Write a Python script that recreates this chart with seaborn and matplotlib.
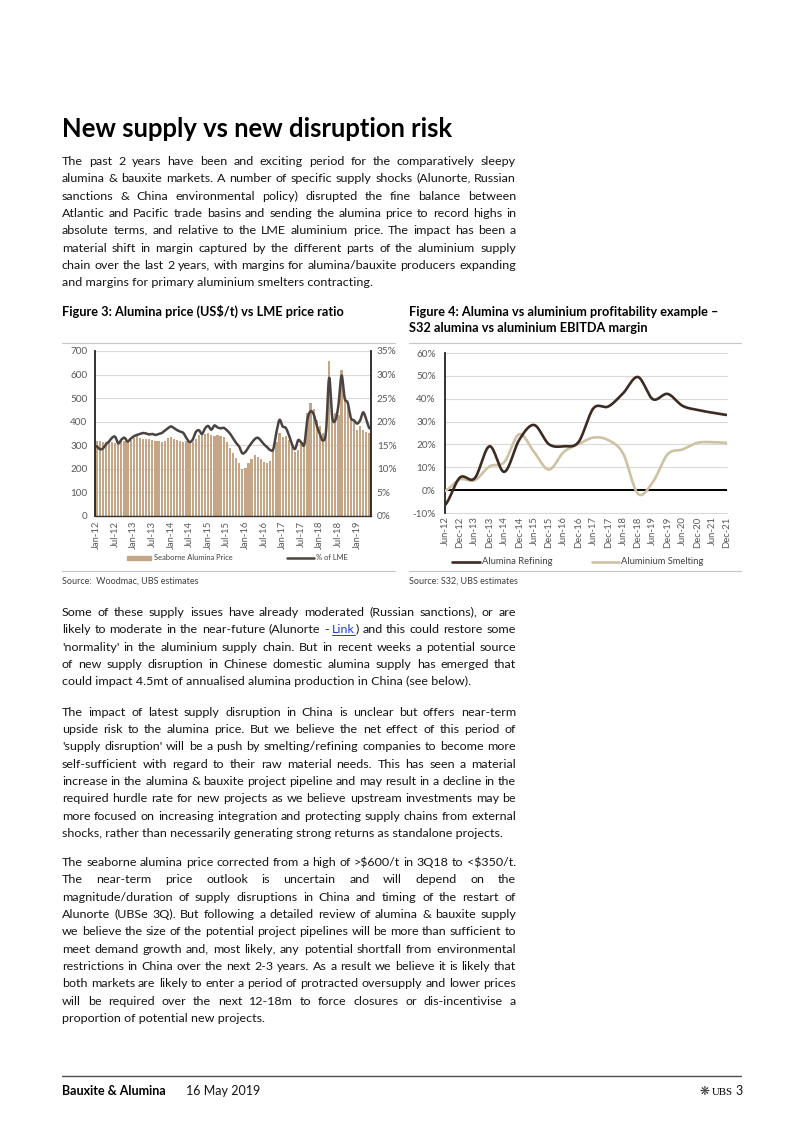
import math
import numpy as np
import pandas as pd
import matplotlib
matplotlib.use('Agg')
import matplotlib.pyplot as plt
from matplotlib.lines import Line2D
from matplotlib.patches import Rectangle
from matplotlib.ticker import FuncFormatter
from matplotlib.font_manager import FontProperties
import seaborn as sns

W, H = 802, 1133

# Figure 3: seaborne alumina price (US$/t, bars) and % of LME (line), monthly Jan-12 .. May-19
months = pd.date_range('2012-01-01', periods=89, freq='MS')
alumina_price = [
    318, 318, 316, 316, 314, 312, 310, 314, 318, 320, 318, 322,
    330, 338, 332, 328, 325, 326, 322, 320, 318, 316, 320, 330,
    336, 328, 322, 318, 316, 320, 318, 314, 325, 345, 350, 348,
    350, 345, 338, 342, 340, 337, 316, 287, 266, 245, 223, 200,
    202, 223, 240, 259, 252, 240, 230, 226, 235, 280, 316, 351,
    337, 340, 323, 294, 273, 280, 309, 306, 437, 480, 454, 408,
    383, 351, 365, 657, 451, 437, 430, 619, 508, 465, 415, 401,
    365, 380, 365, 358, 351,
]
pct_of_lme = [
    14.8, 14.2, 14.3, 15.2, 15.8, 16.6, 16.8, 15.4, 16.2, 16.6, 15.8, 16.4,
    16.9, 17.2, 17.4, 17.6, 17.5, 17.3, 17.4, 17.2, 17.4, 17.6, 18.1, 18.6,
    19.0, 18.6, 18.2, 17.9, 17.6, 16.5, 15.7, 16.2, 17.8, 18.2, 17.4, 18.6,
    19.1, 18.3, 19.2, 18.8, 18.6, 18.7, 18.2, 17.5, 16.5, 15.5, 14.7, 13.3,
    13.6, 14.6, 15.5, 16.3, 16.6, 16.0, 15.2, 14.6, 14.0, 14.2, 17.8, 20.4,
    19.0, 18.7, 17.2, 15.2, 14.2, 16.1, 15.6, 15.2, 20.5, 22.2, 21.6, 19.2,
    17.4, 16.0, 18.0, 29.3, 21.0, 20.3, 23.5, 29.8, 25.0, 24.0, 20.8, 20.3,
    19.6, 20.3, 22.0, 20.4, 18.6,
]
fig3_ticks = list(range(0, 85, 6))
fig3_tick_labels = [months[i].strftime('%b-%y') for i in fig3_ticks]

# Figure 4: S32 EBITDA margin (%), half-yearly
halves = ['Jun-12', 'Dec-12', 'Jun-13', 'Dec-13', 'Jun-14', 'Dec-14', 'Jun-15', 'Dec-15',
          'Jun-16', 'Dec-16', 'Jun-17', 'Dec-17', 'Jun-18', 'Dec-18', 'Jun-19', 'Dec-19',
          'Jun-20', 'Dec-20', 'Jun-21', 'Dec-21']
refining = [-6.5, 5.5, 5.2, 19.2, 8.0, 22.0, 28.5, 20.1, 19.2, 21.1,
            35.8, 36.6, 42.4, 49.5, 39.8, 42.1, 36.9, 35.1, 33.9, 32.9]
smelting = [-0.3, 4.7, 4.3, 10.4, 12.3, 24.5, 16.7, 9.0, 16.7, 20.1,
            23.0, 21.9, 16.0, -1.6, 3.5, 15.7, 17.8, 20.7, 21.0, 20.7]

BAR = '#c4a585'
LME_LINE = '#4a4340'
REF = '#3d2b22'
SME = '#cfc1a3'
TICK = '#595959'
INK = '#141414'
RULE = '#c6c6c6'

sns.set_theme(style='white')
FAMILY = ['Lato', 'DejaVu Sans']
plt.rcParams['font.family'] = FAMILY


def smooth(y, per=16):
    # Excel-style smoothed line (Catmull-Rom through the data points)
    y = np.asarray(y, float)
    p = np.concatenate([[y[0]], y, [y[-1]]])
    t = np.linspace(0, 1, per, endpoint=False)
    xs, ys = [], []
    for i in range(len(y) - 1):
        p0, p1, p2, p3 = p[i], p[i + 1], p[i + 2], p[i + 3]
        seg = 0.5 * (2 * p1 + (p2 - p0) * t + (2 * p0 - 5 * p1 + 4 * p2 - p3) * t ** 2
                     + (3 * p1 - p0 - 3 * p2 + p3) * t ** 3)
        xs.append(i + t)
        ys.append(seg)
    xs.append([len(y) - 1])
    ys.append([y[-1]])
    return np.concatenate(xs), np.concatenate(ys)


fig = plt.figure(figsize=(W / 100, H / 100), dpi=100)
fig.patch.set_facecolor('white')
renderer = fig.canvas.get_renderer()


def fx(x):
    return x / W


def fy(y):
    return 1 - y / H


def put(x, y, s, size, **kw):
    kw.setdefault('va', 'baseline')
    return fig.text(fx(x), fy(y), s, fontsize=size, parse_math=False, **kw)


def width_of(s, size, **kw):
    t = put(0, 0, s, size, **kw)
    w = t.get_window_extent(renderer).width
    t.remove()
    return w


def fit(s, target, **kw):
    return 10 * target / width_of(s, 10, **kw)


def steady(y, s, size):
    # keep every word on the same pixel baseline (Agg rounds the bitmap by its descent)
    prop = FontProperties(family=FAMILY, size=size)
    _, h, d = renderer.get_text_width_height_descent(s, prop, ismath=False)
    err = round(y + d) - y + math.floor(h - d) - math.floor(h)
    return y - err


def hrule(y, x0, x1, color=RULE, lw=0.8):
    fig.add_artist(Line2D([fx(x0), fx(x1)], [fy(y), fy(y)], color=color, lw=lw,
                          transform=fig.transFigure))


# ---- text blocks ----
para1 = [
    "The past 2 years have been and exciting period for the comparatively sleepy",
    "alumina & bauxite markets. A number of specific supply shocks (Alunorte, Russian",
    "sanctions & China environmental policy) disrupted the fine balance between",
    "Atlantic and Pacific trade basins and sending the alumina price to record highs in",
    "absolute terms, and relative to the LME aluminium price. The impact has been a",
    "material shift in margin captured by the different parts of the aluminium supply",
    "chain over the last 2 years, with margins for alumina/bauxite producers expanding",
    "and margins for primary aluminium smelters contracting.",
]
para2 = [
    "Some of these supply issues have already moderated (Russian sanctions), or are",
    "likely to moderate in the near-future (Alunorte - Link) and this could restore some",
    "'normality' in the aluminium supply chain. But in recent weeks a potential source",
    "of new supply disruption in Chinese domestic alumina supply has emerged that",
    "could impact 4.5mt of annualised alumina production in China (see below).",
]
para3 = [
    "The impact of latest supply disruption in China is unclear but offers near-term",
    "upside risk to the alumina price. But we believe the net effect of this period of",
    "'supply disruption' will be a push by smelting/refining companies to become more",
    "self-sufficient with regard to their raw material needs. This has seen a material",
    "increase in the alumina & bauxite project pipeline and may result in a decline in the",
    "required hurdle rate for new projects as we believe upstream investments may be",
    "more focused on increasing integration and protecting supply chains from external",
    "shocks, rather than necessarily generating strong returns as standalone projects.",
]
para4 = [
    "The seaborne alumina price corrected from a high of >$600/t in 3Q18 to <$350/t.",
    "The near-term price outlook is uncertain and will depend on the",
    "magnitude/duration of supply disruptions in China and timing of the restart of",
    "Alunorte (UBSe 3Q). But following a detailed review of alumina & bauxite supply",
    "we believe the size of the potential project pipelines will be more than sufficient to",
    "meet demand growth and, most likely, any potential shortfall from environmental",
    "restrictions in China over the next 2-3 years. As a result we believe it is likely that",
    "both markets are likely to enter a period of protracted oversupply and lower prices",
    "will be required over the next 12-18m to force closures or dis-incentivise a",
    "proportion of potential new projects.",
]

# body size from the free-running last lines
last_lines = [para1[-1], para2[-1], para3[-1], para4[-1]]
last_widths = [370 - 62, 472 - 62, 497 - 62, 267 - 62]
body = 10 * sum(last_widths) / sum(width_of(s, 10) for s in last_lines)

LEFT, RIGHT, STEP = 62, 516, 17.35


def body_text(x, y, s, color=INK):
    put(x, steady(y, s, body), s, body, color=color)


def draw_word(x, y, w):
    if w == 'Link)':
        body_text(x, y, 'Link', color='#1f3fcc')
        wl = width_of('Link', body)
        body_text(x + wl, y, ')')
        hrule(y + 2, x, x + wl, color='#1f3fcc', lw=0.7)
    else:
        body_text(x, y, w)


def paragraph(lines, y0):
    for k, line in enumerate(lines):
        y = round(y0 + k * STEP)
        words = line.split(' ')
        if k == len(lines) - 1:
            body_text(LEFT, y, line)
            continue
        widths = [width_of(w, body) for w in words]
        gap = (RIGHT - LEFT - sum(widths)) / (len(words) - 1)
        x = LEFT
        for w, wd in zip(words, widths):
            draw_word(x, y, w)
            x += wd + gap


title = 'New supply vs new disruption risk'
put(62, 137, title, fit(title, 392, weight='bold'), weight='bold', color='black')
paragraph(para1, 165)
paragraph(para2, 616)
paragraph(para3, 715.5)
paragraph(para4, 866)

# captions
cap3 = 'Figure 3: Alumina price (US$/t) vs LME price ratio'
cap4a = 'Figure 4: Alumina vs aluminium profitability example \u2013'
cap4b = 'S32 alumina vs aluminium EBITDA margin'
cap_size = fit(cap4a, 309, weight='bold')
put(62, 316, cap3, cap_size, weight='bold', color='black')
put(409, 316, cap4a, cap_size, weight='bold', color='black')
put(409, 332, cap4b, cap_size, weight='bold', color='black')

hrule(342.5, 62, 395)
hrule(342.5, 409, 741)
hrule(571.5, 62, 395)
hrule(571.5, 409, 741)

src3 = 'Source:  Woodmac, UBS estimates'
src4 = 'Source: S32, UBS estimates'
src_size = fit(src4, 109)
put(62, 584, src3, src_size, color='#404040')
put(409, 584, src4, src_size, color='#404040')

# ---- Figure 3 ----
ax1 = fig.add_axes([fx(95), fy(516), (371 - 95) / W, (516 - 351) / H])
sns.barplot(x=np.arange(len(alumina_price)), y=alumina_price, color=BAR, saturation=1,
            width=0.72, errorbar=None, ax=ax1, zorder=2, linewidth=0)
ax1.set_ylim(0, 700)
ax1.set_yticks(range(0, 701, 100))
ax1.set_axisbelow(True)
ax1.yaxis.grid(True, color='#d9d9d9', lw=0.8)
ax1.xaxis.grid(False)

ax1b = ax1.twinx()
sx, sy = smooth(pct_of_lme)
sns.lineplot(x=sx, y=sy, ax=ax1b, color=LME_LINE, lw=1.8, sort=False, estimator=None)
ax1b.set_ylim(0, 35)
ax1b.set_yticks(range(0, 36, 5))
ax1b.yaxis.set_major_formatter(FuncFormatter(lambda v, _: f'{v:.0f}%'))
ax1b.grid(False)

ax1.set_xlim(-0.5, len(alumina_price) - 0.5)
ax1.set_xticks(fig3_ticks)
ax1.set_xticklabels(fig3_tick_labels, rotation=90)
for a in (ax1, ax1b):
    a.set_xlabel('')
    a.set_ylabel('')
    for s in a.spines.values():
        s.set_visible(False)
ax1.spines['left'].set_visible(True)
ax1.spines['left'].set_color('#222222')
ax1.spines['left'].set_linewidth(1.3)
ax1.spines['bottom'].set_visible(True)
ax1.spines['bottom'].set_color('#333333')
ax1.spines['bottom'].set_linewidth(1.0)
ax1b.spines['right'].set_visible(True)
ax1b.spines['right'].set_color('#222222')
ax1b.spines['right'].set_linewidth(1.3)
ax1.tick_params(axis='y', length=0, pad=5.5, labelsize=7.2, labelcolor=TICK)
ax1.tick_params(axis='x', length=0, pad=3.5, labelsize=6.8, labelcolor=TICK)
ax1b.tick_params(axis='y', length=0, pad=4.2, labelsize=7.2, labelcolor=TICK)

# legend for Figure 3
fig.add_artist(Rectangle((fx(127), fy(559.5)), 24 / W, 4 / H, color=BAR,
                         transform=fig.transFigure))
fig.add_artist(Line2D([fx(287), fx(314)], [fy(557.7), fy(557.7)], color=LME_LINE, lw=1.8,
                      transform=fig.transFigure))
leg3 = fit('Seaborne Alumina Price', 79)
put(154, 557.7, 'Seaborne Alumina Price', leg3, va='center', color='#404040')
put(316, 557.7, '% of LME', leg3, va='center', color='#404040')

# ---- Figure 4 ----
ax2 = fig.add_axes([fx(445), fy(513), (727 - 445) / W, (513 - 353) / H])
rx, ry = smooth(refining)
mx, my = smooth(smelting)
sns.lineplot(x=rx, y=ry, ax=ax2, color=REF, lw=1.9, sort=False, estimator=None, zorder=4)
sns.lineplot(x=mx, y=my, ax=ax2, color=SME, lw=1.9, sort=False, estimator=None, zorder=3)
ax2.axhline(0, color='black', lw=1.4, zorder=2)
ax2.set_xlim(0, len(halves) - 1)
ax2.set_ylim(-10, 60)
ax2.set_yticks(range(-10, 61, 10))
ax2.yaxis.set_major_formatter(FuncFormatter(lambda v, _: f'{v:.0f}%'))
ax2.set_xticks(range(len(halves)))
ax2.set_xticklabels(halves, rotation=90)
ax2.set_xlabel('')
ax2.set_ylabel('')
ax2.yaxis.grid(True, color='#d9d9d9', lw=0.8)
ax2.xaxis.grid(False)
for s in ax2.spines.values():
    s.set_visible(False)
ax2.spines['left'].set_visible(True)
ax2.spines['left'].set_color('#222222')
ax2.spines['left'].set_linewidth(1.3)
ax2.tick_params(axis='y', length=0, pad=6.5, labelsize=7.2, labelcolor=TICK)
ax2.tick_params(axis='x', length=0, pad=2.5, labelsize=6.8, labelcolor=TICK)
for ln in ax2.get_ygridlines():
    ln.set_clip_on(False)

fig.add_artist(Line2D([fx(452), fx(480)], [fy(562), fy(562)], color=REF, lw=1.9,
                      transform=fig.transFigure))
fig.add_artist(Line2D([fx(592), fx(619)], [fy(562), fy(562)], color=SME, lw=1.9,
                      transform=fig.transFigure))
leg4 = fit('Aluminium Smelting', 82)
put(482, 562, 'Alumina Refining', leg4, va='center', color='#404040')
put(621, 562, 'Aluminium Smelting', leg4, va='center', color='#404040')

# ---- footer ----
hrule(1076, 62, 741, color='#4d4d4d', lw=1.0)
foot = 'Bauxite & Alumina'
foot_size = fit(foot, 104, weight='bold')
put(62, 1095, foot, foot_size, weight='bold', color='black')
put(186, 1095, '16 May 2019', foot_size, color=INK)
put(699, 1095, '\u274b', 8.5, color='#333333', family=['DejaVu Sans'])
put(712, 1095, 'UBS', 7.8, color='black', family=['Liberation Serif', 'DejaVu Serif'])
put(735, 1095, '3', foot_size, color=INK)

fig.savefig('out.png', dpi=100, facecolor='white')
